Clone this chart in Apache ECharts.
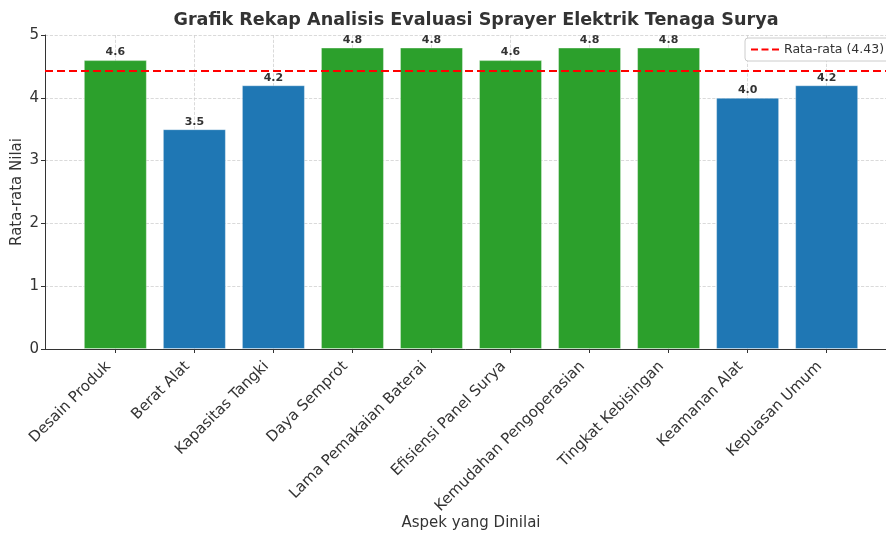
<!DOCTYPE html>
<html>
<head>
<meta charset="utf-8">
<script src="https://cdn.jsdelivr.net/npm/echarts@6/dist/echarts.min.js"></script>
<style>
html, body { margin: 0; padding: 0; background: #fff; }
#chart { width: 886px; height: 533px; }
</style>
</head>
<body>
<div id="chart"></div>
<script>
// aspek yang dinilai
var aspect_names = ["Desain Produk", "Berat Alat", "Kapasitas Tangki", "Daya Semprot", "Lama Pemakaian Baterai",
	"Efisiensi Panel Surya", "Kemudahan Pengoperasian", "Tingkat Kebisingan", "Keamanan Alat", "Kepuasan Umum"];
// rata-rata nilai tiap aspek
var aspect_scores = [4.6, 3.5, 4.2, 4.8, 4.8, 4.6, 4.8, 4.8, 4.0, 4.2];
var y_ticks = [0, 1, 2, 3, 4, 5];
var mean_score = 4.43;

var color_high = "#2ca02c";
var color_low = "#1f77b4";
var font_family = "DejaVu Sans";
var axis_color = "#333";

var tick_index = [];
var bar_data = [];
for (var i = 0; i < aspect_names.length; i++) {
	tick_index.push(i);
	bar_data.push({
		value: [i, aspect_scores[i]],
		itemStyle: { color: aspect_scores[i] >= mean_score ? color_high : color_low }
	});
}

var chart = echarts.init(document.getElementById("chart"));
var option = {
	animation: false,
	textStyle: { fontFamily: font_family },
	title: {
		text: "Grafik Rekap Analisis Evaluasi Sprayer Elektrik Tenaga Surya",
		left: 471,
		textAlign: "center",
		top: 6,
		textStyle: { fontSize: 17.6, fontWeight: "bold", color: "#333", fontFamily: font_family }
	},
	legend: {
		left: 745,
		top: 38,
		orient: "vertical",
		backgroundColor: "#fff",
		borderColor: "#ccc",
		borderWidth: 1,
		borderRadius: 3,
		padding: [5, 8, 5, 6],
		itemWidth: 28,
		itemHeight: 2,
		itemGap: 8,
		textStyle: { fontSize: 12.5, color: "#333", fontFamily: font_family },
		data: [{ name: "Rata-rata (4.43)", icon: "path://M0,0H7V2H0Z M10.5,0H17.5V2H10.5Z M21,0H28V2H21Z" }]
	},
	grid: { left: 45, right: -11, top: 35, bottom: 184, containLabel: false, outerBoundsMode: "none" },
	xAxis: {
		type: "value",
		min: -0.89,
		max: 9.89,
		name: "Aspek yang Dinilai",
		nameLocation: "middle",
		nameMoveOverlap: false,
		nameGap: 167,
		nameTextStyle: { fontSize: 15, color: "#333" },
		axisLine: { show: true, onZero: false, lineStyle: { color: axis_color, width: 1 } },
		axisTick: { show: true, customValues: tick_index, length: 4, lineStyle: { color: axis_color } },
		axisLabel: {
			customValues: tick_index,
			rotate: 45,
			margin: 8,
			padding: [0, 10, 0, 0],
			fontSize: 15,
			color: "#333",
			formatter: function (val) { return aspect_names[Math.round(val)]; }
		},
		splitLine: { show: true, lineStyle: { color: "#d0d0d0", type: "dashed", width: 0.8 } }
	},
	yAxis: {
		type: "value",
		min: 0,
		max: 5,
		interval: 1,
		name: "Rata-rata Nilai",
		nameLocation: "middle",
		nameMoveOverlap: false,
		nameGap: 20,
		nameTextStyle: { fontSize: 15, color: "#333" },
		axisLine: { show: true, onZero: false, lineStyle: { color: axis_color, width: 1 } },
		axisTick: { show: true, length: 4, lineStyle: { color: axis_color } },
		axisLabel: {
			fontSize: 15,
			color: "#333",
			margin: 6,
			customValues: y_ticks
		},
		splitLine: { show: true, lineStyle: { color: "#d0d0d0", type: "dashed", width: 0.8 } }
	},
	series: [
		{
			name: "Nilai",
			type: "bar",
			barWidth: 63,
			data: bar_data,
			itemStyle: { borderColor: "rgba(255,255,255,0.35)", borderWidth: 1 },
			label: {
				show: true,
				position: "top",
				distance: 2,
				fontSize: 11,
				fontWeight: "bold",
				color: "#333",
				formatter: function (p) { return p.value[1].toFixed(1); }
			}
		},
		{
			name: "Rata-rata (4.43)",
			type: "line",
			symbol: "none",
			data: [],
			lineStyle: { color: "#ff0000", type: "dashed", width: 2 },
			itemStyle: { color: "#ff0000" },
			markLine: {
				silent: true,
				symbol: "none",
				label: { show: false },
				lineStyle: { color: "#ff0000", type: [8, 4], width: 2 },
				data: [{ yAxis: mean_score }]
			}
		}
	]
};
chart.setOption(option, true);
</script>
</body>
</html>
